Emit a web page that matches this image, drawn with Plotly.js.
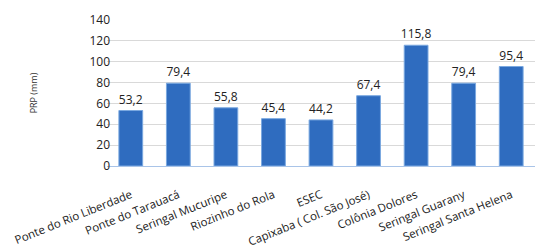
<!DOCTYPE html>
<html><head><meta charset="utf-8">
<script src="https://cdn.plot.ly/plotly-3.0.1.min.js"></script>
<style>html,body{margin:0;padding:0;background:#fff}#c{width:538px;height:249px}</style>
</head><body><div id="c"></div>
<script>
const categories = ["Ponte do Rio Liberdade","Ponte do Tarauacá","Seringal Mucuripe","Riozinho do Rola","ESEC","Capixaba ( Col. São José)","Colônia Dolores","Seringal Guarany","Seringal Santa Helena"];
const values = [53.2,79.4,55.8,45.4,44.2,67.4,115.8,79.4,95.4];
const valueLabels = ["53,2","79,4","55,8","45,4","44,2","67,4","115,8","79,4","95,4"];
const yTicks = [0,20,40,60,80,100,120,140];

Plotly.newPlot('c',[{
  type:'bar', x:categories, y:values, text:valueLabels, textposition:'outside',
  constraintext:'none',
  textfont:{family:'Open Sans, sans-serif',size:12,color:'#222'},
  cliponaxis:false,
  marker:{color:'#2f6cbf',line:{color:'#7aa8e0',width:1}},
  hoverinfo:'none'
}],{
  width:538,height:249,
  margin:{l:107,r:3,t:20,b:83},
  paper_bgcolor:'#fff',plot_bgcolor:'#fff',
  bargap:0.5,
  showlegend:false,
  xaxis:{tickangle:-22,tickfont:{family:'Open Sans, sans-serif',size:11.5,color:'#222'},
    ticklabelstandoff:17,
    showline:true,linecolor:'#a9c4e8',linewidth:1,ticks:'',automargin:false},
  yaxis:{range:[0,140],tickvals:yTicks,showgrid:true,gridcolor:'#d9d9d9',zeroline:false,
    tickfont:{family:'Open Sans, sans-serif',size:12,color:'#222'},ticks:'',
    ticklabelstandoff:-4,
    title:{text:'PRP (mm)',font:{family:'Open Sans, sans-serif',size:9,color:'#333'},standoff:50},automargin:false}
},{displayModeBar:false,staticPlot:true});
</script></body></html>
